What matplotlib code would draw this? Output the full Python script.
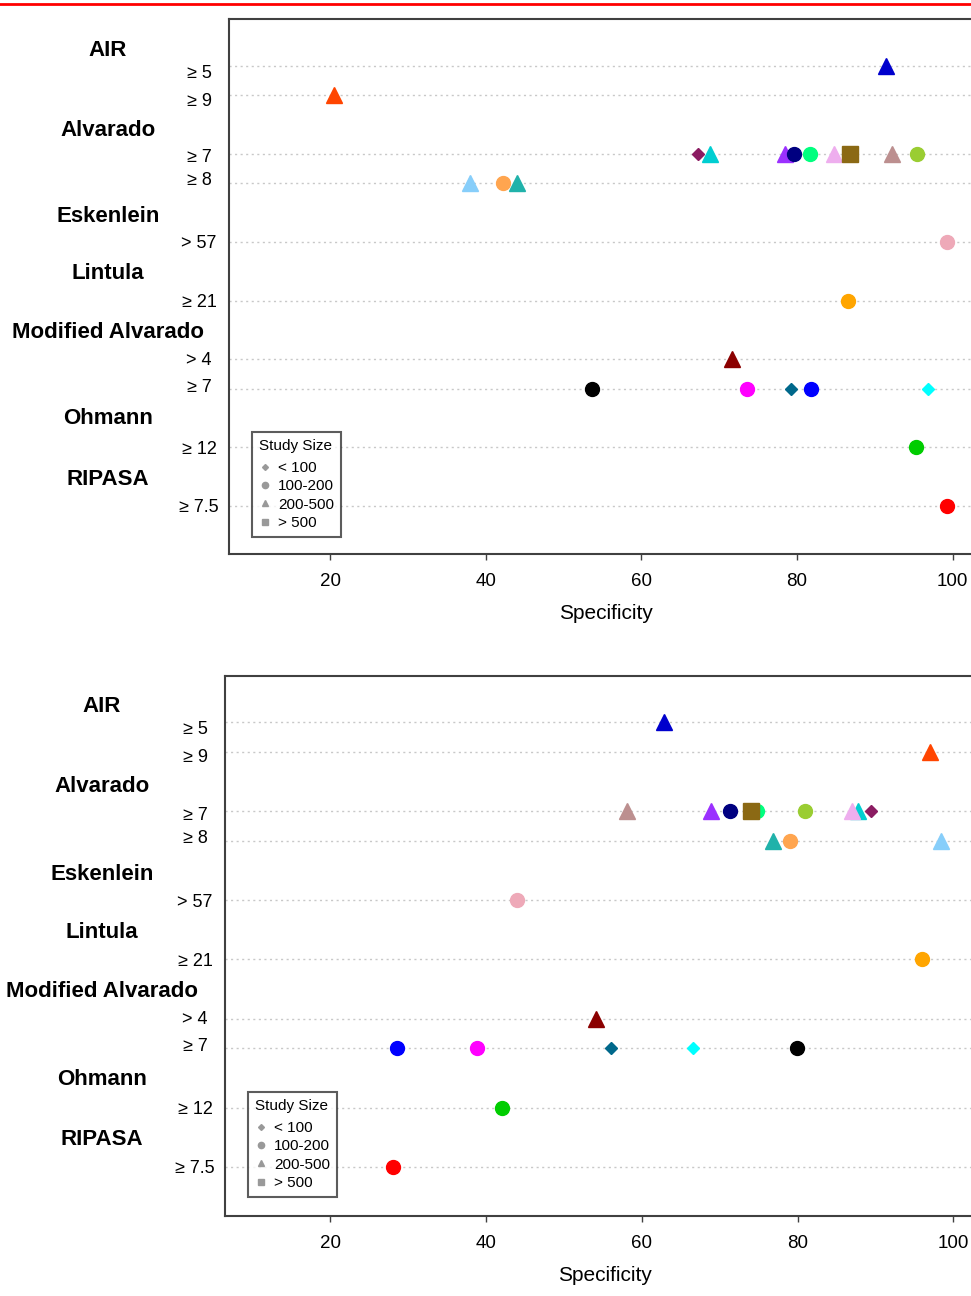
import matplotlib
matplotlib.use("Agg")
import matplotlib.pyplot as plt
from matplotlib.lines import Line2D
from matplotlib.transforms import blended_transform_factory

plt.rcParams['font.family'] = ['Liberation Sans', 'DejaVu Sans']

# ---------------- data ----------------
group_names = ["AIR", "Alvarado", "Eskenlein", "Lintula", "Modified Alvarado", "Ohmann", "RIPASA"]
group_pos = [0.4, 3.1, 6.05, 8.0, 10.0, 12.95, 15.0]
row_labels = ["≥ 5", "≥ 9", "≥ 7", "≥ 8", "> 57", "≥ 21", "> 4", "≥ 7", "≥ 12", "≥ 7.5"]
row_pos = [1, 2, 4, 5, 7, 9, 11, 12, 14, 16]
row_label_pos = [1.2, 2.13, 4.07, 4.85, 7.0, 9.0, 10.97, 11.88, 14.0, 15.97]

# study: (row index, marker-size class, colour)
study_row = [0, 1, 2, 2, 2, 2, 2, 2, 2, 2, 2, 3, 3, 3, 4, 5, 6, 7, 7, 7, 7, 7, 8, 9]
study_size = ["200-500", "200-500",
              "<100", "200-500", "200-500", "100-200", "100-200", "200-500", ">500", "200-500", "100-200",
              "200-500", "100-200", "200-500",
              "100-200", "100-200", "200-500",
              "100-200", "100-200", "<100", "100-200", "<100",
              "100-200", "100-200"]
study_color = ["#0000CD", "#FF4500",
               "#8B1C62", "#00CED1", "#9B30FF", "#000080", "#00FF7F", "#EEAEEE", "#8B6914", "#BC8F8F", "#9ACD32",
               "#87CEFA", "#FFA54F", "#20B2AA",
               "#EEA9B8", "#FFA500", "#8B0000",
               "#000000", "#FF00FF", "#00688B", "#0000FF", "#00FFFF",
               "#00CD00", "#FF0000"]
spec_top = [91.5, 20.5,
            67.3, 68.8, 78.5, 79.6, 81.7, 84.7, 86.8, 92.2, 95.4,
            38.0, 42.2, 44.0,
            99.3, 86.5, 71.7,
            53.7, 73.6, 79.3, 81.8, 96.9,
            95.3, 99.3]
spec_bottom = [62.9, 97.0,
               89.4, 87.8, 68.9, 71.3, 74.8, 87.0, 74.0, 58.1, 81.0,
               98.4, 79.0, 76.8,
               44.0, 96.0, 54.1,
               79.9, 38.9, 56.1, 28.6, 66.6,
               42.1, 28.1]

size_classes = ["<100", "100-200", "200-500", ">500"]
legend_labels = ["< 100", "100-200", "200-500", "> 500"]
xticks = [20, 40, 60, 80, 100]

marker_of = {"<100": "D", "100-200": "o", "200-500": "^", ">500": "s"}
msize_of = {"<100": 6, "100-200": 10, "200-500": 11, ">500": 11}

W, H = 971, 1296
fig = plt.figure(figsize=(W / 100, H / 100), dpi=100)

# red rule at top
fig.add_artist(Line2D([0, 1], [1 - 4 / H, 1 - 4 / H], transform=fig.transFigure,
                      color="#FF0000", lw=2))


def panel(left_px, top_px, bottom_px, xmin, px_per_unit, ylim, values, label_cx, sub_cx, leg_xy):
    width_px = (104 - xmin) * px_per_unit
    ax = fig.add_axes([left_px / W, 1 - bottom_px / H, width_px / W, (bottom_px - top_px) / H])
    ax.set_xlim(xmin, 104)
    ax.set_ylim(*ylim)
    for y in row_pos:
        ax.axhline(y, color="#C8C8C8", lw=1, ls=(0, (1.5, 2.5)), zorder=1)
    for i in range(len(values)):
        s = study_size[i]
        ax.plot(values[i], row_pos[study_row[i]], marker=marker_of[s], ms=msize_of[s],
                color=study_color[i], mec=study_color[i], ls="none", zorder=3)
    ax.set_xticks(xticks)
    ax.set_xticklabels([str(t) for t in xticks], fontsize=13.5)
    ax.tick_params(axis="x", length=4, width=1, color="#404040", pad=10)
    ax.set_yticks([])
    ax.set_xlabel("Specificity", fontsize=15, labelpad=10)
    for sp in ax.spines.values():
        sp.set_color("#404040")
        sp.set_linewidth(1.5)
    tr = blended_transform_factory(fig.transFigure, ax.transData)
    for name, y in zip(group_names, group_pos):
        ax.text(label_cx / W, y, name, transform=tr, ha="center", va="center_baseline",
                fontsize=16, fontweight="bold", clip_on=False)
    for lab, y in zip(row_labels, row_label_pos):
        ax.text(sub_cx / W, y, lab, transform=tr, ha="center", va="center_baseline",
                fontsize=13, clip_on=False)
    handles = [Line2D([], [], marker=marker_of[c], color="#999999", ls="none",
                      ms={"<100": 3, "100-200": 4.5, "200-500": 5, ">500": 5}[c])
               for c in size_classes]
    leg = ax.legend(handles, legend_labels, title="Study Size", loc="upper left",
                    bbox_to_anchor=((leg_xy[0] - left_px) / width_px,
                                    1 - (leg_xy[1] - top_px) / (bottom_px - top_px)),
                    fontsize=11, title_fontsize=11, frameon=True, fancybox=False,
                    handlelength=0.8, handletextpad=0.45, labelspacing=0.28,
                    borderpad=0.45, borderaxespad=0)
    leg.get_frame().set_edgecolor("#333333")
    leg.get_frame().set_linewidth(1.5)
    leg._legend_box.align = "left"
    leg._legend_box.sep = 6
    return ax


panel(229, 19, 554, 7.0, 7.78, (17.64, -0.6), spec_top, 108, 199, (252, 432))
panel(225, 676, 1216, 6.5, 7.79, (17.65, -0.55), spec_bottom, 102, 195, (248, 1092))

fig.savefig("out.png", dpi=100)
